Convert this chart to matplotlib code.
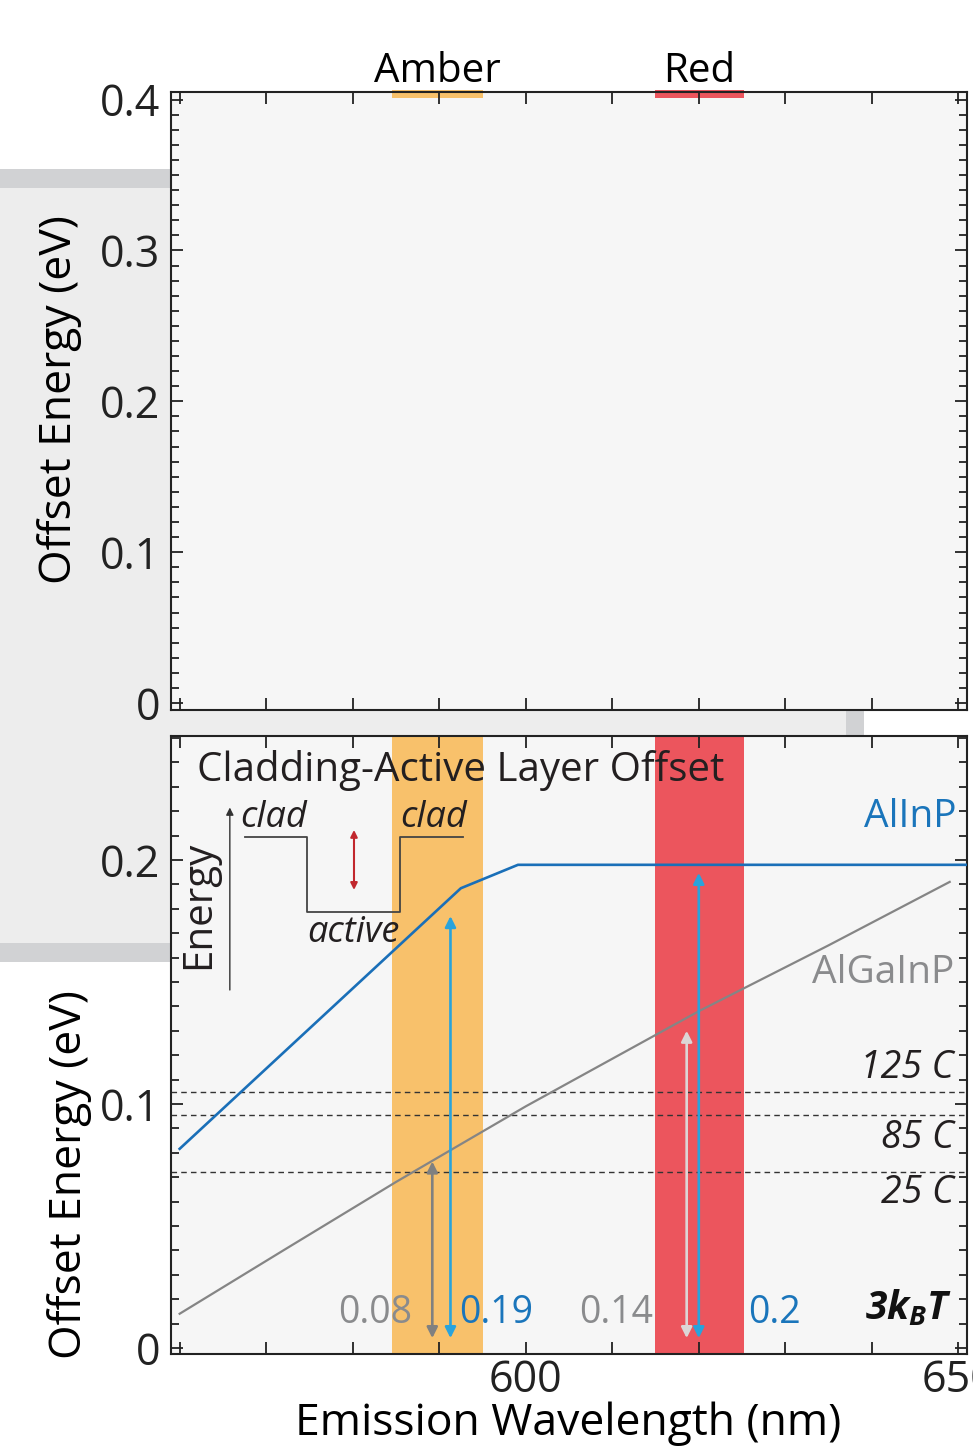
import numpy as np
import matplotlib
matplotlib.use('Agg')
from matplotlib import pyplot as plt
from matplotlib.patches import Rectangle
from matplotlib.ticker import MultipleLocator

plt.rcParams['font.family'] = ['Open Sans', 'DejaVu Sans']
plt.rcParams['axes.unicode_minus'] = False
plt.rcParams['mathtext.fontset'] = 'custom'
plt.rcParams['mathtext.rm'] = 'Open Sans:italic:bold'
plt.rcParams['mathtext.it'] = 'Open Sans:italic:bold'

# 데이터
wl_alinp = [560, 592.5, 599.1, 651]
off_alinp = [0.0816, 0.1884, 0.198, 0.198]
wl_algainp = [560, 572, 585, 600, 620, 635, 649]
off_algainp = [0.014, 0.040, 0.068, 0.099, 0.138, 0.165, 0.191]

temp_labels = ['125 C', '85 C', '25 C']
kT3 = [0.105, 0.0955, 0.072]
temp_text_y = [0.1148, 0.0861, 0.0635]

band_names = ['Amber', 'Red']
band_lo = [584.5, 614.9]
band_hi = [595.1, 625.2]
band_colors = ['#f8c16b', '#ec555d']

# 화살표 (파장, 끝값, 색)
arrow_wl = [589.2, 591.3, 618.6, 620.0]
arrow_top = [0.0764, 0.177, 0.130, 0.1947]
arrow_colors = ['#808080', '#29a3dc', '#dcd6d6', '#29a3dc']
val_labels = ['0.08', '0.19', '0.14', '0.2']
val_x = [582.6, 596.6, 610.5, 628.7]
val_colors = ['#8a8b8d', '#1a75bb', '#8a8b8d', '#1a75bb']

BLUE = '#1a6fb8'
GREY = '#858585'
W, H = 973, 1446

fig = plt.figure(figsize=(W / 100, H / 100), dpi=100)

def px(x0, y0, x1, y1):
    # 픽셀 좌표 -> figure 좌표
    return [x0 / W, 1 - y1 / H, (x1 - x0) / W, (y1 - y0) / H]

# 배경 회색 영역 (원본 캡처 흔적)
for (x0, y0, x1, y1, c) in [(0, 169, 171, 962, '#ededed'), (0, 169, 171, 188, '#d1d2d4'),
                            (0, 943, 171, 962, '#d1d2d4'), (0, 710, 864, 736, '#ededed'),
                            (846, 710, 864, 736, '#d1d2d4')]:
    r = px(x0, y0, x1, y1)
    fig.patches.append(Rectangle((r[0], r[1]), r[2], r[3], transform=fig.transFigure,
                                 facecolor=c, edgecolor='none', zorder=-5))

ax1 = fig.add_axes(px(171, 92, 967, 710))
ax2 = fig.add_axes(px(171, 736, 967, 1354))

for ax in [ax1, ax2]:
    ax.set_facecolor('#f6f6f6')
    ax.set_xlim(559, 651)
    ax.xaxis.set_major_locator(MultipleLocator(10))
    ax.yaxis.set_major_locator(MultipleLocator(0.1))
    ax.yaxis.set_minor_locator(MultipleLocator(0.01))
    ax.tick_params(which='both', direction='in', top=True, right=True, width=1.3, colors='#222')
    ax.tick_params(which='major', length=8.5, pad=8, labelsize=31)
    ax.tick_params(which='minor', length=5.5)
    for s in ax.spines.values():
        s.set_linewidth(1.5)
        s.set_color('#222')

ax1.set_ylim(-0.0046, 0.405)
ax1.set_yticks([0, 0.1, 0.2, 0.3, 0.4])
ax1.set_yticklabels(['0', '0.1', '0.2', '0.3', '0.4'])
ax1.set_xticklabels([])

ax2.set_ylim(-0.0025, 0.2508)
ax2.set_yticks([0, 0.1, 0.2])
ax2.set_yticklabels(['0', '0.1', '0.2'])
ax2.set_xticks(np.arange(560, 651, 10))
ax2.set_xticklabels(['' if v not in (600, 650) else str(v) for v in range(560, 651, 10)])
ax2.tick_params(axis='x', pad=3)

# 상단 패널: 밴드 표시
for name, lo, hi, c in zip(band_names, band_lo, band_hi, band_colors):
    ax1.axvspan(lo, hi, ymin=0.991, ymax=1.004, color=c, lw=0, clip_on=False)
    ax1.text((lo + hi) / 2, 0.4183, name, ha='center', va='center', fontsize=29, clip_on=False)
    ax2.axvspan(lo, hi, ymin=0.0, ymax=1.0, color=c, lw=0, zorder=1)

# 선
ax2.plot(wl_alinp, off_alinp, color=BLUE, lw=1.9, zorder=3)
ax2.plot(wl_algainp, off_algainp, color=GREY, lw=1.6, zorder=3)
for v in kT3:
    ax2.axhline(v, color='#333', lw=1.0, ls=(0, (4, 3)), zorder=2)

for lab, ty in zip(temp_labels, temp_text_y):
    ax2.text(649.5, ty, lab, ha='right', va='center', fontsize=27, style='italic', color='#231f20')

# 화살표
for xw, top, c in zip(arrow_wl, arrow_top, arrow_colors):
    ax2.annotate('', xy=(xw, top), xytext=(xw, 0.004),
                 arrowprops=dict(arrowstyle='<|-|>', color=c, lw=1.9, mutation_scale=16,
                                 shrinkA=0, shrinkB=0), zorder=4)

for lab, xv, c in zip(val_labels, val_x, val_colors):
    ax2.text(xv, 0.0143, lab, ha='center', va='center', fontsize=27, color=c, zorder=5)
ax2.text(649.3, 0.0165, r'$3k_BT$', ha='right', va='center', fontsize=28, color='#111')

ax2.text(649.8, 0.2176, 'AlInP', ha='right', va='center', fontsize=28, color='#1a75bb')
ax2.text(649.5, 0.1537, 'AlGaInP', ha='right', va='center', fontsize=28, color='#8a8b8d')
ax2.text(562.0, 0.2365, 'Cladding-Active Layer Offset', ha='left', va='center', fontsize=29,
         color='#231f20', zorder=5)

# 삽입 그림: 에너지 다이어그램
ax2.annotate('', xy=(565.8, 0.2215), xytext=(565.8, 0.1467),
             arrowprops=dict(arrowstyle='-|>', color='#333', lw=1.0, mutation_scale=11,
                             shrinkA=0, shrinkB=0), zorder=5)
ax2.text(562.2, 0.1816, 'Energy', rotation=90, ha='center', va='center', fontsize=29, color='#231f20')
ax2.plot([567.55, 574.72, 574.72, 585.47, 585.47, 592.75],
         [0.2094, 0.2094, 0.1787, 0.1787, 0.2094, 0.2094], color='#444', lw=1.3, zorder=5)
ax2.annotate('', xy=(580.15, 0.2123), xytext=(580.15, 0.1877),
             arrowprops=dict(arrowstyle='<|-|>', color='#c1272d', lw=1.5, mutation_scale=10,
                             shrinkA=0, shrinkB=0), zorder=5)
ax2.text(570.9, 0.2172, 'clad', ha='center', va='center', fontsize=26, style='italic', color='#231f20')
ax2.text(589.3, 0.2172, 'clad', ha='center', va='center', fontsize=26, style='italic', color='#231f20')
ax2.text(580.1, 0.1700, 'active', ha='center', va='center', fontsize=26, style='italic', color='#231f20')

# 축 제목
fig.text(60 / W, 1 - 400 / H, 'Offset Energy (eV)', rotation=90, ha='center', va='center', fontsize=32)
fig.text(70 / W, 1 - 1175 / H, 'Offset Energy (eV)', rotation=90, ha='center', va='center', fontsize=32)
fig.text(568 / W, 1 - 1424 / H, 'Emission Wavelength (nm)', ha='center', va='center', fontsize=32)

fig.savefig('out.png', dpi=100)
